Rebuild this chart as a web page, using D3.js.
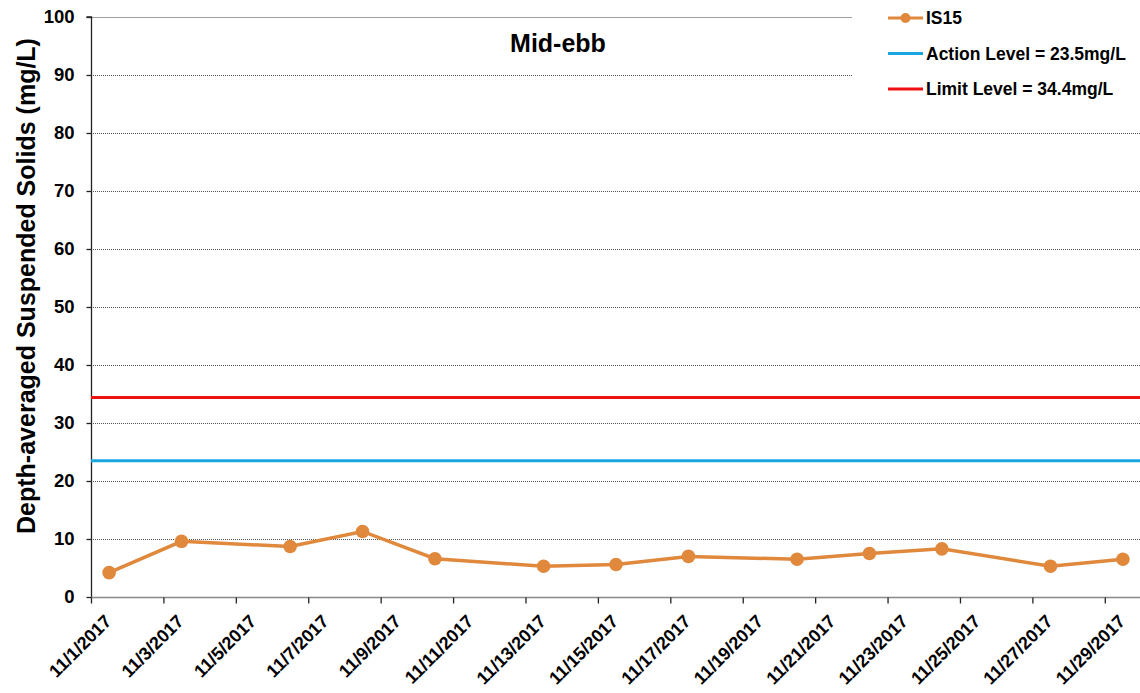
<!DOCTYPE html>
<html>
<head>
<meta charset="utf-8">
<script src="https://cdn.jsdelivr.net/npm/d3@7"></script>
<style>
  body { margin: 0; background: white; }
  text { font-family: "Liberation Sans", Arial, sans-serif; font-weight: bold; }
</style>
</head>
<body>
<div id="vis"></div>
<script>
var width = 1140;
var height = 693;

// data
var sampleDates = ["2017-11-01T12:00", "2017-11-03T12:00", "2017-11-06T12:00", "2017-11-08T12:00",
  "2017-11-10T12:00", "2017-11-13T12:00", "2017-11-15T12:00", "2017-11-17T12:00",
  "2017-11-20T12:00", "2017-11-22T12:00", "2017-11-24T12:00", "2017-11-27T12:00", "2017-11-29T12:00"];
var is15Values = [4.2, 9.6, 8.7, 11.3, 6.6, 5.3, 5.6, 7.0, 6.5, 7.5, 8.3, 5.3, 6.5];
var actionLevel = 23.5;
var limitLevel = 34.4;
var yTicks = [0, 10, 20, 30, 40, 50, 60, 70, 80, 90, 100];
var xTickDays = [1, 3, 5, 7, 9, 11, 13, 15, 17, 19, 21, 23, 25, 27, 29];
var legendLabels = ["IS15", "Action Level = 23.5mg/L", "Limit Level = 34.4mg/L"];

var mLeft = 91, mRight = 1141, mTop = 17, mBottom = 597;
var orange = "#e0883c", blue = "#1aa7e0", red = "#f01010";

var svg = d3.select("#vis")
  .append("svg")
  .attr("width", width)
  .attr("height", height)
  .style("background-color", "white");

var parse = d3.timeParse("%Y-%m-%dT%H:%M");
var data = sampleDates.map((d, i) => ({ date: parse(d), value: is15Values[i] }));

var xScale = d3.scaleTime()
  .domain([new Date(2017, 10, 1), new Date(2017, 10, 30)])
  .range([mLeft, mRight]);
var yScale = d3.scaleLinear()
  .domain([0, 100])
  .range([mBottom, mTop]);

// gridlines
svg.append("g")
  .selectAll("line")
  .data(yTicks.filter(d => d > 0))
  .join("line")
  .attr("x1", mLeft)
  .attr("x2", mRight)
  .attr("y1", d => yScale(d) + 0.5)
  .attr("y2", d => yScale(d) + 0.5)
  .attr("stroke", d => d == 100 ? "#a0a0a0" : "#555")
  .attr("stroke-width", 1)
  .attr("stroke-dasharray", d => d == 100 ? null : "1,1");

// y axis
var yAxis = d3.axisLeft(yScale).tickValues(yTicks).tickSize(5).tickPadding(12);
var ya = svg.append("g")
  .attr("transform", `translate(${mLeft + 0.5},0)`)
  .call(yAxis);
ya.selectAll("path, line").attr("stroke", "#222").attr("stroke-width", 1.3);
ya.select(".domain").attr("d", `M-5,${yScale(100)}H0V${yScale(0)}`);
ya.selectAll("text").style("font-size", "18.5px").attr("fill", "#000");

// x axis
var xTicks = xTickDays.map(d => new Date(2017, 10, d));
var xAxis = d3.axisBottom(xScale).tickValues(xTicks).tickSize(6).tickFormat(d3.timeFormat("%-m/%-d/%Y"));
var xa = svg.append("g")
  .attr("transform", `translate(0,${mBottom + 0.5})`)
  .call(xAxis);
xa.selectAll("path, line").attr("stroke", "#888").attr("stroke-width", 1.3);
xa.selectAll("line").attr("stroke", "#222");
xa.select(".domain").attr("d", `M${mLeft},0H${mRight}`);
xa.selectAll("text")
  .style("font-size", "18px")
  .attr("fill", "#000")
  .attr("text-anchor", "end")
  .attr("transform", "translate(21,25) rotate(-45)")
  .attr("dy", 0)
  .attr("y", 0);

// level lines
svg.append("line")
  .attr("x1", mLeft).attr("x2", mRight)
  .attr("y1", yScale(actionLevel)).attr("y2", yScale(actionLevel))
  .attr("stroke", blue).attr("stroke-width", 3);
svg.append("line")
  .attr("x1", mLeft).attr("x2", mRight)
  .attr("y1", yScale(limitLevel)).attr("y2", yScale(limitLevel))
  .attr("stroke", red).attr("stroke-width", 3);

// IS15 series
var line = d3.line().x(d => xScale(d.date)).y(d => yScale(d.value));
svg.append("path")
  .datum(data)
  .attr("d", line)
  .attr("fill", "none")
  .attr("stroke", orange)
  .attr("stroke-width", 3.5);
svg.append("g")
  .selectAll("circle")
  .data(data)
  .join("circle")
  .attr("cx", d => xScale(d.date))
  .attr("cy", d => yScale(d.value))
  .attr("r", 6.8)
  .attr("fill", orange);

// title
svg.append("text")
  .attr("x", 558)
  .attr("y", 52)
  .attr("text-anchor", "middle")
  .style("font-size", "25px")
  .text("Mid-ebb");

// y label
svg.append("text")
  .attr("transform", `translate(35,286) rotate(-90)`)
  .attr("text-anchor", "middle")
  .style("font-size", "25px")
  .text("Depth-averaged Suspended Solids (mg/L)");

// legend
svg.append("rect")
  .attr("x", 852).attr("y", 0)
  .attr("width", width - 852).attr("height", 105)
  .attr("fill", "white");
var legendColors = [orange, blue, red];
var lg = svg.append("g")
  .selectAll("g")
  .data(legendLabels)
  .join("g")
  .attr("transform", (d, i) => `translate(888,${18 + i * 35.5})`);
lg.append("line")
  .attr("x1", 0).attr("x2", 35)
  .attr("stroke", (d, i) => legendColors[i])
  .attr("stroke-width", 3);
lg.filter((d, i) => i == 0).append("circle")
  .attr("cx", 17.5).attr("r", 5).attr("fill", orange);
lg.append("text")
  .attr("x", 38)
  .attr("dy", "0.35em")
  .style("font-size", "17.5px")
  .text(d => d);
</script>
</body>
</html>
